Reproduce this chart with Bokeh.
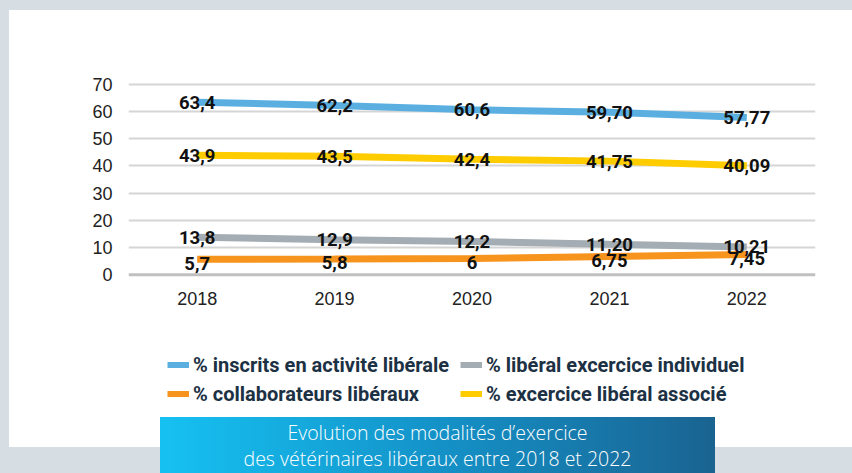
from bokeh.plotting import figure
from bokeh.models import (FactorRange, Range1d, Legend, LegendItem, Span, Div,
                          GlobalInlineStyleSheet, ColumnDataSource, FixedTicker)
from bokeh.layouts import column
from bokeh.core.properties import value
from bokeh.embed import file_html
from bokeh.resources import INLINE

# ---------------- data ----------------
years = ["2018", "2019", "2020", "2021", "2022"]

inscrits = [63.4, 62.2, 60.6, 59.70, 57.77]
inscrits_lbl = ["63,4", "62,2", "60,6", "59,70", "57,77"]

associe = [43.9, 43.5, 42.4, 41.75, 40.09]
associe_lbl = ["43,9", "43,5", "42,4", "41,75", "40,09"]

individuel = [13.8, 12.9, 12.2, 11.20, 10.21]
individuel_lbl = ["13,8", "12,9", "12,2", "11,20", "10,21"]

collaborateurs = [5.7, 5.8, 6, 6.75, 7.45]
collaborateurs_lbl = ["5,7", "5,8", "6", "6,75", "7,45"]

names = ["% inscrits en activité libérale",
         "% libéral excercice individuel",
         "% collaborateurs libéraux",
         "% excercice libéral associé"]

y_ticks = [0, 10, 20, 30, 40, 50, 60, 70]

title_lines = ["Evolution des modalités d\u2019exercice",
               "des vétérinaires libéraux entre 2018 et 2022"]

# ---------------- styles ----------------
BLUE = "#5aafe0"
GRAY = "#a4adb3"
ORANGE = "#f7941d"
YELLOW = "#ffcc00"
BG = "#d6dde3"

# ---------------- chart ----------------
p = figure(width=843, height=325, x_range=FactorRange(factors=years, range_padding=0),
           y_range=Range1d(-1, 71), output_backend="svg", toolbar_location=None,
           min_border_left=119, min_border_right=37, min_border_top=71,
           min_border_bottom=58)
p.margin = (10, 0, 0, 9)
p.styles = {"background-color": "white"}
p.border_fill_color = "white"
p.background_fill_color = "white"
p.outline_line_color = None

p.yaxis.ticker = FixedTicker(ticks=y_ticks)
for ax in (p.xaxis[0], p.yaxis[0]):
    ax.axis_line_color = None
    ax.major_tick_line_color = None
    ax.minor_tick_line_color = None
    ax.major_tick_out = 0
    ax.major_tick_in = 0
    ax.major_label_text_font = "Liberation Sans"
    ax.major_label_text_font_size = "18px"
    ax.major_label_text_color = "#222222"
p.yaxis.major_label_standoff = 16
p.xaxis.major_label_standoff = 14

p.xgrid.grid_line_color = None
p.ygrid.grid_line_color = "#d5d5d5"
p.ygrid.grid_line_width = 2
p.ygrid.ticker = FixedTicker(ticks=y_ticks[1:])
p.add_layout(Span(location=0, dimension="width", line_color="#c0c0c0", line_width=3))

series = [
    (inscrits, inscrits_lbl, BLUE, 0),
    (individuel, individuel_lbl, GRAY, 0),
    (collaborateurs, collaborateurs_lbl, ORANGE, 4),
    (associe, associe_lbl, YELLOW, 0),
]

for vals, lbls, col, yoff in series:
    src = ColumnDataSource(dict(x=years, y=vals, t=lbls))
    p.line("x", "y", source=src, line_color=col, line_width=7)
for vals, lbls, col, yoff in series:
    src = ColumnDataSource(dict(x=years, y=vals, t=lbls))
    p.text("x", "y", text="t", source=src, text_font=value("Roboto"),
           text_font_style="bold", text_font_size="18.5px", text_color="#111111",
           text_align="center", text_baseline="middle", y_offset=yoff)

# ---------------- legend panel (series drawn out of view, legend only) ----------------
lf = figure(width=843, height=112, x_range=FactorRange(factors=years, range_padding=0),
            y_range=Range1d(1000, 1001), output_backend="svg", toolbar_location=None,
            min_border_left=119, min_border_right=37, min_border_top=0,
            min_border_bottom=0)
lf.margin = (0, 0, 0, 9)
lf.styles = {"background-color": "white"}
lf.axis.visible = False
lf.grid.visible = False
lf.border_fill_color = "white"
lf.background_fill_color = "white"
lf.outline_line_color = None

legend_renderers = []
for vals, lbls, col, yoff in series:
    src = ColumnDataSource(dict(x=years, y=vals))
    legend_renderers.append(lf.line("x", "y", source=src, line_color=col, line_width=6))

legend = Legend(items=[LegendItem(label=n, renderers=[r]) for n, r in zip(names, legend_renderers)],
                location=(39, 39), orientation="horizontal", ncols=2,
                glyph_width=22, glyph_height=29, label_height=29, label_width=267,
                label_standoff=4, spacing=0, padding=0, margin=0,
                label_text_font="Roboto", label_text_font_style="bold",
                label_text_font_size="20px", label_text_color="#1c3144",
                label_text_baseline="alphabetic",
                background_fill_alpha=0, border_line_color=None)
lf.add_layout(legend, "center")

# ---------------- caption ----------------
caption = Div(
    text=("<div style=\"width:555px;font-family:'Open Sans',sans-serif;font-weight:300;"
          "font-size:19.5px;color:white;text-align:center;line-height:26px;"
          "padding-top:3px;\">" + title_lines[0] + "<br>" + title_lines[1] + "</div>"),
    width=555, height=56,
    styles={"background": "linear-gradient(90deg, #16c1f2 0%, #1492c8 50%, #1a6391 100%)"},
)
caption.margin = (-30, 0, 0, 160)

layout = column(p, lf, caption, spacing=0,
                stylesheets=[GlobalInlineStyleSheet(
                    css="html, body { margin: 0; background: " + BG + "; overflow: hidden; }")])

open("out.html", "w").write(file_html(layout, INLINE))
